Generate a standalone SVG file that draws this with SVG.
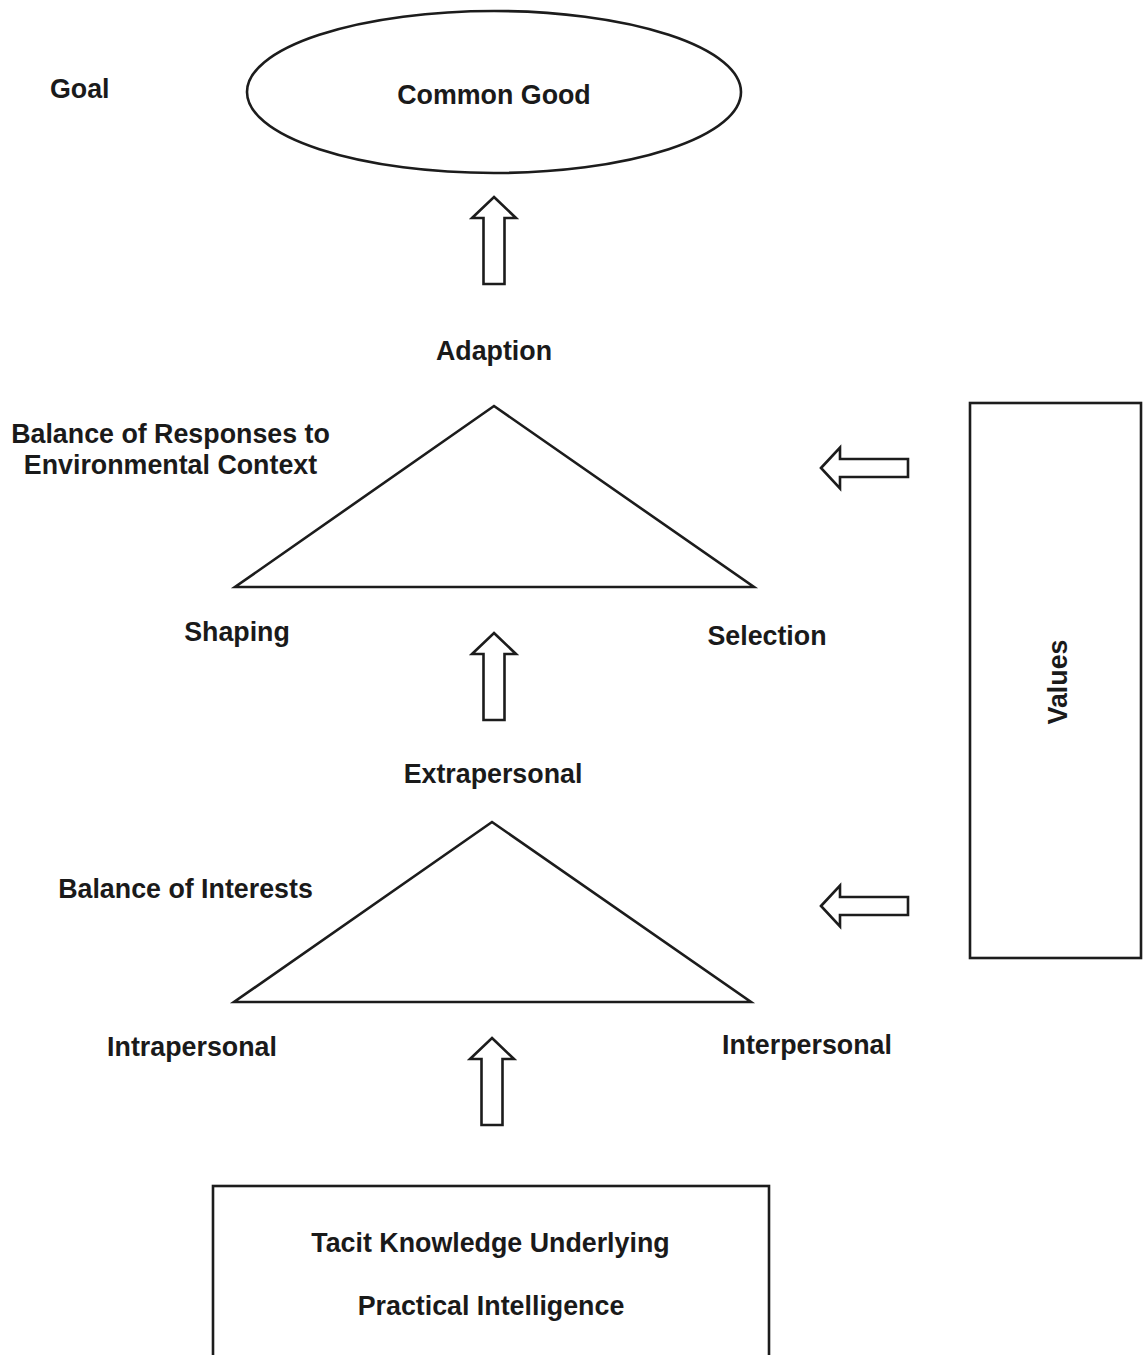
<svg xmlns="http://www.w3.org/2000/svg" width="1143" height="1355" viewBox="0 0 1143 1355">
  <defs>
    <style>
      .shape { fill: #ffffff; stroke: #1c1c1c; stroke-width: 2.6; stroke-linejoin: miter; }
      .lbl { font-family: "Liberation Sans", Arial, sans-serif; font-weight: bold; font-size: 26.8px; fill: #1a1a1a; }
      .mid { text-anchor: middle; }
    </style>
    <!-- hollow block arrows, drawn pointing up / left from origin at the tip -->
    <path id="upArrow" class="shape" d="M0,0 L22,21 L10.5,21 L10.5,87 L-10.5,87 L-10.5,21 L-22,21 Z"/>
    <path id="leftArrow" class="shape" d="M0,0 L19,-20.5 L19,-9 L87,-9 L87,9 L19,9 L19,20.5 Z"/>
  </defs>

  <rect width="1143" height="1355" fill="#ffffff"/>

  <g id="goal-label">
    <text class="lbl" x="50" y="98">Goal</text>
  </g>

  <g id="common-good">
    <ellipse class="shape" cx="494" cy="92" rx="247" ry="81"/>
    <text class="lbl mid" x="494" y="104">Common Good</text>
  </g>

  <g id="adaption">
    <text class="lbl mid" x="494" y="360">Adaption</text>
    <polygon class="shape" points="494,406 754,587 235,587"/>
    <text class="lbl mid" x="170.5" y="443">Balance of Responses to</text>
    <text class="lbl mid" x="170.5" y="474">Environmental Context</text>
    <text class="lbl mid" x="237" y="641">Shaping</text>
    <text class="lbl mid" x="767" y="645">Selection</text>
  </g>

  <g id="interests">
    <text class="lbl mid" x="493" y="783">Extrapersonal</text>
    <polygon class="shape" points="492,822 751,1002 234,1002"/>
    <text class="lbl mid" x="185.5" y="898">Balance of Interests</text>
    <text class="lbl mid" x="192" y="1056">Intrapersonal</text>
    <text class="lbl mid" x="807" y="1054">Interpersonal</text>
  </g>

  <g id="values">
    <rect class="shape" x="970" y="403" width="171" height="555"/>
    <text class="lbl mid" transform="translate(1067,682) rotate(-90)" x="0" y="0">Values</text>
  </g>

  <g id="tacit-knowledge">
    <rect class="shape" x="213" y="1186" width="556" height="200"/>
    <text class="lbl mid" x="490.5" y="1252">Tacit Knowledge Underlying</text>
    <text class="lbl mid" x="491" y="1315">Practical Intelligence</text>
  </g>

  <g id="connectors">
    <use href="#upArrow" x="494" y="197"/>
    <use href="#upArrow" x="494" y="633"/>
    <use href="#upArrow" x="492" y="1038"/>
    <use href="#leftArrow" x="821" y="468"/>
    <use href="#leftArrow" x="821" y="906"/>
  </g>
</svg>
